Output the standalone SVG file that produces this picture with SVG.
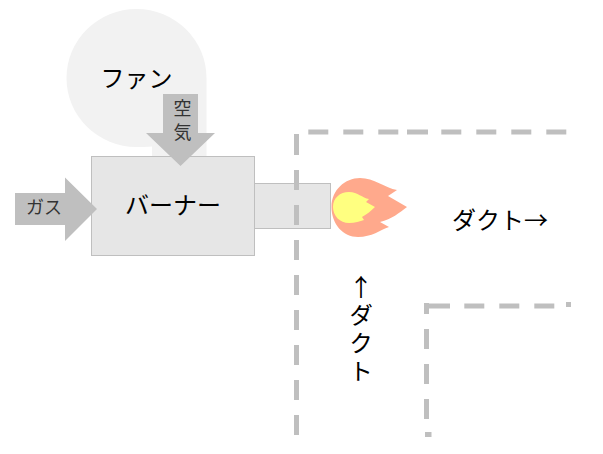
<svg xmlns="http://www.w3.org/2000/svg" width="603" height="454" viewBox="0 0 603 454">
<style>
text{font-family:"Noto Sans CJK JP","Noto Sans",sans-serif;fill:#000}
.big{font-size:24px;text-anchor:middle}
.small{font-size:18px;fill:#333;text-anchor:middle}
.vert{font-size:24px;writing-mode:vertical-rl;text-orientation:upright;letter-spacing:4px}
.box{fill:#e6e6e6;stroke:#bfbfbf;stroke-width:1}
.arrow{fill:#bfbfbf}
.duct{fill:none;stroke:#bfbfbf;stroke-width:5}
</style>
<rect width="603" height="454" fill="#fff"/>
<g id="fan">
<path d="M136.500 9A70 69 0 0 1 206.500 78V156H152V146.500Q144 147 136.500 147A70 69 0 0 1 136.500 9Z" fill="#f2f2f2"/>
<text class="big" x="136.500" y="87">ファン</text>
</g>
<g id="nozzle"><rect class="box" x="254.500" y="183.500" width="76" height="45"/></g>
<g id="burner">
<rect class="box" x="91.500" y="156.500" width="163" height="99"/>
<text class="big" x="173" y="214">バーナー</text>
</g>
<g id="air">
<path class="arrow" d="M163 94H198V133H215L180.500 166L146 133H163Z"/>
<text class="small" x="182.500" y="115">空</text>
<text class="small" x="182.500" y="139">気</text>
</g>
<g id="gas">
<path class="arrow" d="M15 193H65V177.500L97 209L65 241V225H15Z"/>
<text class="small" x="44" y="214">ガス</text>
</g>
<g id="flame">
<path d="M331.500 207C331.500 190 345 178 360 178C374 178 385 188 397 190L388 196L407 207C399 213 392 219 380 222L389 227C380 230 372 237 358 237C343 237 331.500 224 331.500 207Z" fill="#ffa98c"/>
<path d="M333 207C333 198 340 192 349 192C358 192 362 198 369 199L366 202L375 207C371 211 367 214 362 217L364 220C360 221 355 223 349 223C340 223 333 216 333 207Z" fill="#ffff80"/>
</g>
<g id="connectors">
<path class="duct" d="M296.500 134V155M296.500 170V190M296.500 205V225M296.500 240V260M296.500 275V295M296.500 310V330M296.500 345V365M296.500 380V400M296.500 415V435"/>
<path class="duct" d="M308.300 132H328.300M343.300 132H363.300M378.300 132H398.300M407 132H428M441.300 132H461.300M476.300 132H496.300M511.300 132H531.300M546.300 132H566.300"/>
<path class="duct" d="M426.500 303V314M426.500 329V349M426.500 364V384M426.500 399V419M425 434.500H429V437"/>
<path class="duct" d="M429 306H450M464.300 306H484.300M499.300 306H519.300M534.300 306H554.300M566 304.500H571"/>
</g>
<g id="duct-labels">
<text class="big" x="500" y="229">ダクト→</text>
<text class="vert" x="361" y="275">↑ダクト</text>
</g>
</svg>
